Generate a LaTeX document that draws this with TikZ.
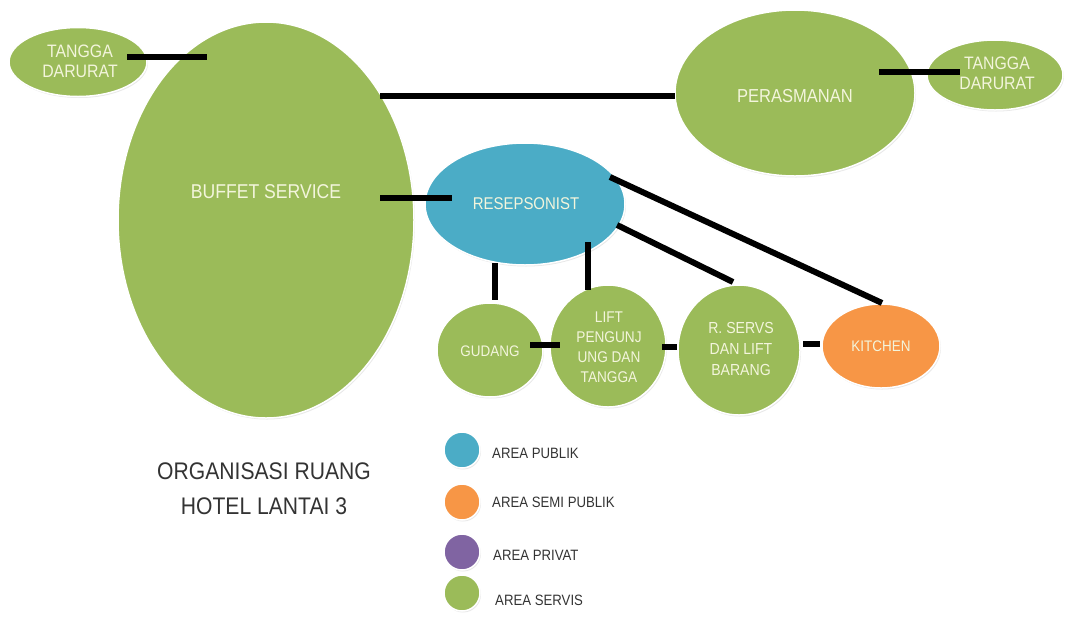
\documentclass[tikz,border=0pt]{standalone}
\usepackage{fontspec}
\setmainfont{Liberation Sans}
\newfontfamily\narrowsans[FakeStretch=0.88]{Liberation Sans}
\usetikzlibrary{shapes.geometric,shadows}
\definecolor{srvgreen}{HTML}{9BBB59}
\definecolor{pubblue}{HTML}{4BACC6}
\definecolor{semiorange}{HTML}{F79646}
\definecolor{privpurple}{HTML}{8064A2}
\definecolor{labeltext}{HTML}{F3F5DC}
\definecolor{darktext}{HTML}{333333}
\begin{document}
\begin{tikzpicture}[x=1pt,y=-1pt,
  room/.style={ellipse, draw=white, line width=1.5pt, inner sep=0pt,
    drop shadow={opacity=0.18, shadow xshift=1pt, shadow yshift=-1.5pt}},
  dot/.style={circle, draw=white, line width=1.5pt, inner sep=0pt, minimum size=36pt,
    drop shadow={opacity=0.18, shadow xshift=1pt, shadow yshift=-1.5pt}},
  lbl/.style={text=labeltext, align=center, inner sep=0pt},
  keytext/.style={text=darktext, anchor=west, inner sep=0pt, font=\narrowsans\fontsize{15}{16}\selectfont},
  link/.style={line width=6pt, black}]
\useasboundingbox (0,0) rectangle (1070,619);

% rooms
\node[room, fill=srvgreen, minimum width=296pt, minimum height=396pt] (buffet) at (266,220) {};
\node[room, fill=srvgreen, minimum width=138pt, minimum height=69pt] (tdleft) at (78,62) {};
\node[room, fill=srvgreen, minimum width=240pt, minimum height=166pt] (perasmanan) at (795,93) {};
\node[room, fill=srvgreen, minimum width=136pt, minimum height=70pt] (tdright) at (995,75) {};
\node[room, fill=pubblue, minimum width=200pt, minimum height=122pt] (resep) at (525,204) {};
\node[room, fill=srvgreen, minimum width=106pt, minimum height=94pt] (gudang) at (490,350) {};
\node[room, fill=srvgreen, minimum width=116pt, minimum height=122pt] (lift) at (608,346) {};
\node[room, fill=srvgreen, minimum width=122pt, minimum height=130pt] (rservs) at (739,350) {};
\node[room, fill=semiorange, minimum width=118pt, minimum height=84pt] (kitchen) at (881,346) {};

% room names
\node[lbl, font=\narrowsans\fontsize{18}{20}\selectfont] (tdleftname) at (80,61) {TANGGA\\DARURAT};
\node[lbl, font=\narrowsans\fontsize{20}{20}\selectfont] (buffetname) at (266,192) {BUFFET SERVICE};
\node[lbl, font=\narrowsans\fontsize{18.8}{20}\selectfont] (perasname) at (795,96) {PERASMANAN};
\node[lbl, font=\narrowsans\fontsize{18}{20}\selectfont] (tdrightname) at (997,73) {TANGGA\\DARURAT};
\node[lbl, font=\narrowsans\fontsize{17}{20}\selectfont] (resepname) at (526,204) {RESEPSONIST};
\node[lbl, font=\narrowsans\fontsize{15.3}{20}\selectfont] (gudangname) at (490,351) {GUDANG};
\node[lbl, font=\narrowsans\fontsize{15.5}{20}\selectfont] (liftname) at (609,347) {LIFT\\PENGUNJ\\UNG DAN\\TANGGA};
\node[lbl, font=\narrowsans\fontsize{16}{21}\selectfont] (rservsname) at (741,349) {R. SERVS\\DAN LIFT\\BARANG};
\node[lbl, font=\narrowsans\fontsize{15.3}{20}\selectfont] (kitchenname) at (881,346) {KITCHEN};

% connector ends
\coordinate (a1) at (127,57);   \coordinate (a2) at (207,57);
\coordinate (b1) at (380,96);   \coordinate (b2) at (675,96);
\coordinate (c1) at (879,72);   \coordinate (c2) at (960,72);
\coordinate (d1) at (380,198);  \coordinate (d2) at (452,198);
\coordinate (e1) at (495,263);  \coordinate (e2) at (495,300);
\coordinate (f1) at (588,242);  \coordinate (f2) at (588,290);
\coordinate (g1) at (617,225);  \coordinate (g2) at (733,282);
\coordinate (h1) at (610,177);  \coordinate (h2) at (882,303);
\coordinate (i1) at (530,345);  \coordinate (i2) at (560,345);
\coordinate (j1) at (662,347);  \coordinate (j2) at (677,347);
\coordinate (k1) at (803,344);  \coordinate (k2) at (820,344);

% connectors
\draw[link] (a1) -- (a2);
\draw[link] (b1) -- (b2);
\draw[link] (c1) -- (c2);
\draw[link] (d1) -- (d2);
\draw[link] (e1) -- (e2);
\draw[link] (f1) -- (f2);
\draw[link] (g1) -- (g2);
\draw[link] (h1) -- (h2);
\draw[link] (i1) -- (i2);
\draw[link] (j1) -- (j2);
\draw[link] (k1) -- (k2);

% title
\node[text=darktext, align=center, inner sep=0pt, font=\narrowsans\fontsize{24}{35}\selectfont] (title) at (264,489)
  {ORGANISASI RUANG\\HOTEL LANTAI 3};

% key
\node[dot, fill=pubblue] (keypub) at (462,450) {};
\node[dot, fill=semiorange] (keysemi) at (462,502) {};
\node[dot, fill=privpurple] (keypriv) at (462,552) {};
\node[dot, fill=srvgreen] (keysrv) at (462,593) {};
\node[keytext] (keypubtext) at (492,453) {AREA PUBLIK};
\node[keytext] (keysemitext) at (492,502) {AREA SEMI PUBLIK};
\node[keytext] (keyprivtext) at (493,555) {AREA PRIVAT};
\node[keytext] (keysrvtext) at (495,600) {AREA SERVIS};
\end{tikzpicture}
\end{document}
